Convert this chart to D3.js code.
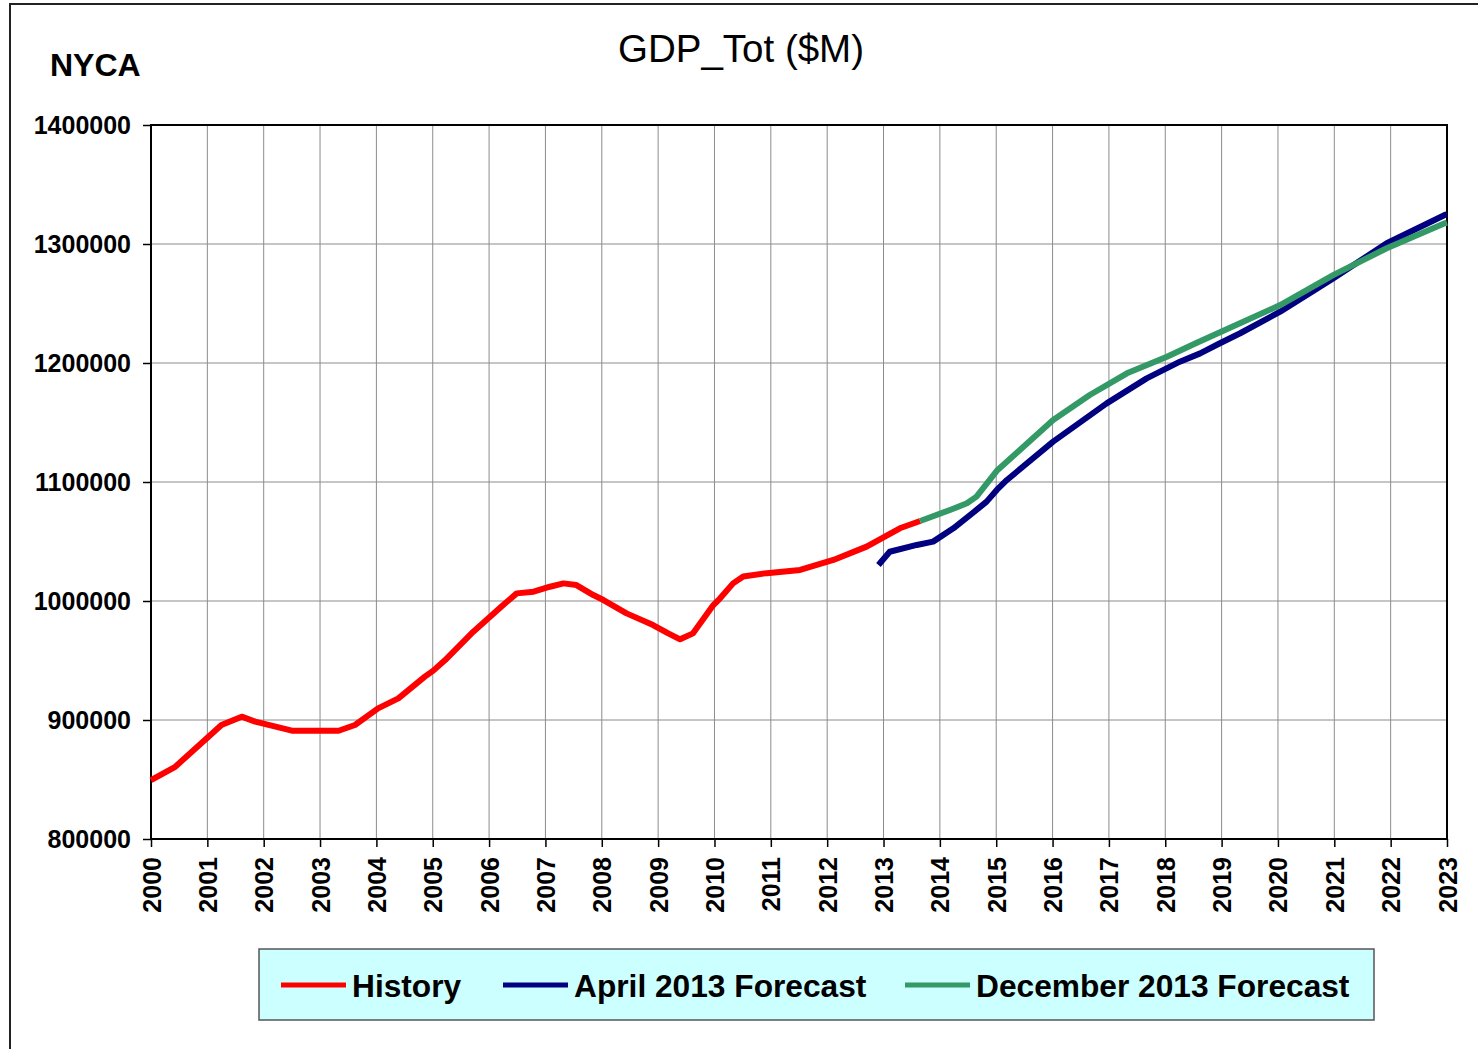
<!DOCTYPE html>
<html>
<head>
<meta charset="utf-8">
<script src="https://cdn.jsdelivr.net/npm/d3@7"></script>
<style>
  body { margin: 0; background: #fff; }
  text { font-family: "Liberation Sans", Arial, sans-serif; }
</style>
</head>
<body>
<script>
// values, year (decimal) -> $M
const histYears = [2000, 2000.43, 2001.02, 2001.25, 2001.61, 2001.85, 2002.14, 2002.5, 2003.33, 2003.62, 2004.03, 2004.39, 2004.86, 2005.01, 2005.22, 2005.72, 2006.25, 2006.49, 2006.79, 2007.08, 2007.32, 2007.55, 2007.85, 2008.03, 2008.44, 2008.91, 2009.18, 2009.39, 2009.62, 2009.98, 2010.1, 2010.33, 2010.51, 2010.93, 2011.52, 2012.11, 2012.7, 2013.29, 2013.65]
const histVals  = [849500, 860700, 886000, 895800, 902800, 898600, 895200, 891000, 891000, 895800, 909800, 918200, 936400, 941500, 950400, 974200, 996600, 1006400, 1007800, 1012000, 1014800, 1013400, 1005000, 1000800, 989600, 979800, 972800, 967800, 972800, 996600, 1002300, 1014800, 1020600, 1023400, 1026100, 1034500, 1045700, 1061100, 1067200]

const aprYears = [2012.91, 2013.11, 2013.59, 2013.88, 2014.24, 2014.65, 2014.83, 2015.01, 2015.19, 2016.01, 2016.96, 2017.67, 2018.26, 2018.62, 2018.97, 2019.33, 2020.04, 2020.98, 2021.93, 2022.96, 2023]
const aprVals  = [1030300, 1041400, 1047100, 1049900, 1061100, 1076500, 1083500, 1093300, 1101700, 1133900, 1166100, 1187100, 1201100, 1208100, 1216600, 1225000, 1243100, 1271100, 1300600, 1324400, 1325000]

const decYears = [2013.65, 2014.18, 2014.48, 2014.65, 2015.01, 2015.42, 2016.01, 2016.66, 2017.32, 2018.03, 2018.56, 2019.1, 2020.04, 2020.98, 2021.93, 2022.96, 2023]
const decVals  = [1067200, 1076500, 1082100, 1087700, 1109400, 1126900, 1152100, 1173100, 1191300, 1205300, 1217000, 1228500, 1248700, 1273900, 1296400, 1317400, 1318000]

const yTicks = [800000, 900000, 1000000, 1100000, 1200000, 1300000, 1400000]
const xTicks = d3.range(2000, 2024)

const seriesNames = ["History", "April 2013 Forecast", "December 2013 Forecast"]
const seriesColors = ["#ff0000", "#000080", "#339966"]

const W = 1478, H = 1049
const plotL = 151, plotR = 1447, plotT = 125, plotB = 839

const svg = d3.select("body").append("svg")
  .attr("width", W).attr("height", H)

// outer frame
svg.append("path")
  .attr("d", `M10,${H} L10,4 L${W},4`)
  .attr("fill", "none").attr("stroke", "#222").attr("stroke-width", 2)

const x = d3.scaleLinear().domain([2000, 2023]).range([plotL, plotR])
const y = d3.scaleLinear().domain([800000, 1400000]).range([plotB, plotT])

// grid
svg.append("g").selectAll("line")
  .data(xTicks.slice(1, -1))
  .join("line")
  .attr("x1", d => x(d)).attr("x2", d => x(d))
  .attr("y1", plotT).attr("y2", plotB)
  .attr("stroke", "#8c8c8c").attr("stroke-width", 1)

svg.append("g").selectAll("line")
  .data(yTicks.slice(1, -1))
  .join("line")
  .attr("x1", plotL).attr("x2", plotR)
  .attr("y1", d => y(d)).attr("y2", d => y(d))
  .attr("stroke", "#8c8c8c").attr("stroke-width", 1)

// plot border
svg.append("rect")
  .attr("x", plotL).attr("y", plotT)
  .attr("width", plotR - plotL).attr("height", plotB - plotT)
  .attr("fill", "none").attr("stroke", "#000").attr("stroke-width", 2)

// axes
const yAxis = svg.append("g")
  .attr("transform", `translate(${plotL},0)`)
  .call(d3.axisLeft(y).tickValues(yTicks).tickSize(8).tickPadding(12).tickFormat(d3.format("d")))
yAxis.select(".domain").remove()
yAxis.selectAll("line").attr("stroke", "#000").attr("stroke-width", 1.5)
yAxis.selectAll("text")
  .attr("font-size", 25).attr("font-weight", "bold").attr("fill", "#000")
  .attr("font-family", "Liberation Sans, Arial, sans-serif")

const xAxis = svg.append("g")
  .attr("transform", `translate(0,${plotB})`)
  .call(d3.axisBottom(x).tickValues(xTicks).tickSize(8).tickFormat(d3.format("d")))
xAxis.select(".domain").remove()
xAxis.selectAll("line").attr("stroke", "#000").attr("stroke-width", 1.5)
xAxis.selectAll("text")
  .attr("font-size", 25).attr("font-weight", "bold").attr("fill", "#000")
  .attr("font-family", "Liberation Sans, Arial, sans-serif")
  .attr("transform", "rotate(-90)")
  .attr("text-anchor", "end")
  .attr("x", -18).attr("y", 0).attr("dy", "0.36em")

// lines
const line = d3.line().x(d => x(d[0])).y(d => y(d[1]))
const series = [
  d3.zip(histYears, histVals),
  d3.zip(aprYears, aprVals),
  d3.zip(decYears, decVals)
]
// April underneath, December and History on top as in the reference
;[1, 0, 2].forEach(i => {
  svg.append("path")
    .datum(series[i])
    .attr("d", line)
    .attr("fill", "none")
    .attr("stroke", seriesColors[i])
    .attr("stroke-width", 6)
    .attr("stroke-linejoin", "round")
})

// titles
svg.append("text")
  .attr("x", 741).attr("y", 62)
  .attr("text-anchor", "middle")
  .attr("font-size", 38.5)
  .text("GDP_Tot ($M)")

svg.append("text")
  .attr("x", 50).attr("y", 76)
  .attr("font-size", 32).attr("font-weight", "bold")
  .text("NYCA")

// legend
const lg = svg.append("g")
lg.append("rect")
  .attr("x", 259).attr("y", 949).attr("width", 1115).attr("height", 71)
  .attr("fill", "#ccffff").attr("stroke", "#555").attr("stroke-width", 1.5)

const legX = [281, 503, 905]
seriesNames.forEach((n, i) => {
  lg.append("line")
    .attr("x1", legX[i]).attr("x2", legX[i] + 65)
    .attr("y1", 985).attr("y2", 985)
    .attr("stroke", seriesColors[i]).attr("stroke-width", 5)
  lg.append("text")
    .attr("x", legX[i] + 71).attr("y", 997)
    .attr("font-size", 31.7).attr("font-weight", "bold")
    .text(n)
})
</script>
</body>
</html>
